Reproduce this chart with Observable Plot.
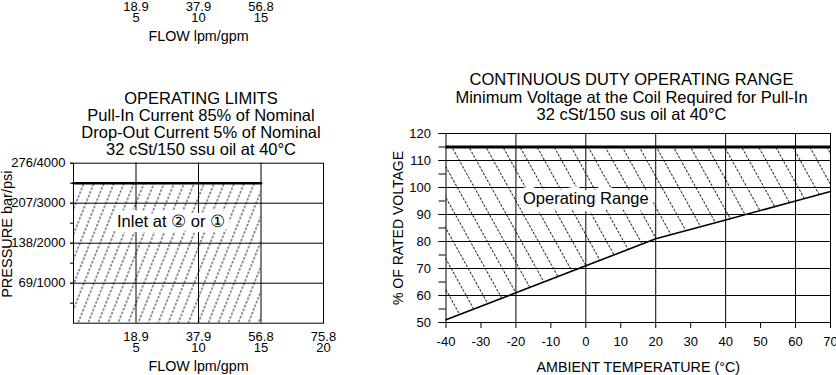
<!DOCTYPE html>
<html><head><meta charset="utf-8">
<script src="https://cdn.jsdelivr.net/npm/d3@7"></script>
<script src="https://cdn.jsdelivr.net/npm/@observablehq/plot@0.6"></script>
<style>
html,body{margin:0;padding:0;background:#fff;}
#root{position:relative;width:836px;height:375px;overflow:hidden;font-family:"Liberation Sans",Arial,Helvetica,sans-serif;color:#000;}
#root svg{position:absolute;overflow:visible;}
.title{position:absolute;text-align:center;font-size:16.5px;white-space:nowrap;}
</style></head><body><div id="root"></div>
<script>
// ---------- data ----------
// fragment of the previous chart's flow axis (top of page)
const prevFlowGpm = [5, 10, 15];
const prevFlowLpm = ["18.9", "37.9", "56.8"];

// OPERATING LIMITS
const flowGpm = [5, 10, 15, 20];
const flowLpm = ["18.9", "37.9", "56.8", "75.8"];
const pressurePsi = [1000, 2000, 3000, 4000];
const pressureBar = ["69", "138", "207", "276"];
const pressureMinorTicks = [500, 1000, 1500, 2000, 2500, 3000, 3500, 4000];
const limitFlowGpm = [0, 15];
const limitPressurePsi = [3500, 3500];
const inletLabel = [{gpm: 7.8, psi: 2530, text: "Inlet at \u2461 or \u2460"}];

// CONTINUOUS DUTY OPERATING RANGE
const tempC = [-40, -20, 0, 20, 40, 60, 70];
const minVoltPct = [51, 61, 71, 81, 88, 95, 98.5];
const maxVoltPct = 115;
const tempTicks = [-40, -30, -20, -10, 0, 10, 20, 30, 40, 50, 60, 70];
const tempGrid = [-20, 0, 20, 40, 60];
const voltTicks = [50, 55, 60, 65, 70, 75, 80, 85, 90, 95, 100, 105, 110, 115, 120];
const voltLabels = [50, 60, 70, 80, 90, 100, 110, 120];
const voltGrid = [60, 70, 80, 90, 100, 110];
const rangeLabel = [{t: 0, v: 96, text: "Operating Range"}];

const leftTitle = ["OPERATING LIMITS", "Pull-In Current 85% of Nominal", "Drop-Out Current 5% of Nominal", "32 cSt/150 ssu oil at 40\u00B0C"];
const rightTitle = ["CONTINUOUS DUTY OPERATING RANGE", "Minimum Voltage at the Coil Required for Pull-In", "32 cSt/150 sus oil at 40\u00B0C"];

// ---------- helpers ----------
const FONT = '"Liberation Sans", Arial, Helvetica, sans-serif';
const rootEl = document.getElementById("root");
const NS = "http://www.w3.org/2000/svg";
function addHatch(svg, id, spacing, angle) {
  const defs = document.createElementNS(NS, "defs");
  const pat = document.createElementNS(NS, "pattern");
  pat.setAttribute("id", id);
  pat.setAttribute("patternUnits", "userSpaceOnUse");
  pat.setAttribute("width", spacing);
  pat.setAttribute("height", 12);
  pat.setAttribute("patternTransform", `rotate(${angle})`);
  const ln = document.createElementNS(NS, "line");
  ln.setAttribute("x1", spacing / 2); ln.setAttribute("x2", spacing / 2);
  ln.setAttribute("y1", 0); ln.setAttribute("y2", 12);
  ln.setAttribute("stroke", "#000");
  ln.setAttribute("stroke-width", 0.9);
  ln.setAttribute("stroke-dasharray", "2.5 1.5");
  pat.appendChild(ln);
  defs.appendChild(pat);
  svg.insertBefore(defs, svg.firstChild);
}
function place(el, x, y) { el.style.left = x + "px"; el.style.top = y + "px"; rootEl.appendChild(el); }
function addTitle(lines, center, y, lh) {
  const d = document.createElement("div");
  d.className = "title";
  d.style.width = "500px";
  d.style.lineHeight = lh + "px";
  d.innerHTML = lines.map(s => `<div>${s}</div>`).join("");
  place(d, center - 250, y);
}
const plotStyle = {fontFamily: FONT, fontSize: "13px", color: "black", background: "transparent", overflow: "visible"};

// ---------- top fragment ----------
const topFrag = Plot.plot({
  width: 340, height: 46, marginLeft: 73, marginRight: 17, marginTop: 0, marginBottom: 0,
  x: {domain: [0, 20], axis: null}, style: plotStyle,
  marks: [
    Plot.text(prevFlowGpm, {x: d => d, text: (d, i) => prevFlowLpm[i], frameAnchor: "top", dy: 6, lineAnchor: "middle", fontSize: 13}),
    Plot.text(prevFlowGpm, {x: d => d, text: d => String(d), frameAnchor: "top", dy: 17, lineAnchor: "middle", fontSize: 13}),
    Plot.text(["FLOW lpm/gpm"], {text: d => d, frameAnchor: "top", dy: 35.5, lineAnchor: "middle", fontSize: 14.3})
  ]
});
place(topFrag, 0, 0);

// ---------- OPERATING LIMITS ----------
const limitRows = limitFlowGpm.map((q, i) => ({q, p: limitPressurePsi[i]}));
const leftPlot = Plot.plot({
  width: 340, height: 220, marginLeft: 73, marginRight: 17, marginTop: 7.7, marginBottom: 52.3,
  x: {domain: [0, 20], axis: null}, y: {domain: [0, 4000]}, style: plotStyle,
  marks: [
    Plot.areaY(limitRows, {x: "q", y: "p", fill: "url(#hatchL)"}),
    Plot.gridX({ticks: [5, 10, 15], stroke: "black", strokeOpacity: 1}),
    Plot.gridY({ticks: [1000, 2000, 3000], stroke: "black", strokeOpacity: 1}),
    Plot.frame({stroke: "black"}),
    Plot.line(limitRows, {x: "q", y: "p", stroke: "black", strokeWidth: 2.6}),
    Plot.axisY({ticks: pressureMinorTicks, tickSize: 3, tickFormat: () => "", label: null}),
    Plot.axisY({ticks: pressurePsi, tickSize: 3, tickPadding: 5, label: null, fontSize: 13,
      tickFormat: p => `${pressureBar[pressurePsi.indexOf(p)]}/${p}`}),
    Plot.text(flowGpm, {x: d => d, text: (d, i) => flowLpm[i], frameAnchor: "bottom", dy: 13.5, lineAnchor: "middle", fontSize: 13}),
    Plot.text(flowGpm, {x: d => d, text: d => String(d), frameAnchor: "bottom", dy: 24.5, lineAnchor: "middle", fontSize: 13}),
    Plot.text(["FLOW lpm/gpm"], {text: d => d, frameAnchor: "bottom", dy: 43.5, lineAnchor: "middle", fontSize: 14.3}),
    Plot.text(["PRESSURE bar/psi"], {text: d => d, frameAnchor: "left", textAnchor: "middle", rotate: -90, dx: -66, dy: -9, lineAnchor: "middle", fontSize: 14.5}),
    Plot.text(inletLabel, {x: "gpm", y: "psi", text: "text", fontSize: 16.5, lineAnchor: "middle", fill: "black", stroke: "white", strokeWidth: 11, strokeLinejoin: "round"})
  ]
});
addHatch(leftPlot, "hatchL", 9.3, 21.8);
place(leftPlot, 0, 155);
addTitle(leftTitle, 201, 90, 17);

// ---------- CONTINUOUS DUTY OPERATING RANGE ----------
const rangeRows = tempC.map((t, i) => ({t, v: minVoltPct[i]}));
const rightPlot = Plot.plot({
  width: 456, height: 250, marginLeft: 65.5, marginRight: 6, marginTop: 8, marginBottom: 53,
  x: {domain: [-40, 70]}, y: {domain: [50, 120]}, style: plotStyle,
  marks: [
    Plot.areaY(rangeRows, {x: "t", y1: "v", y2: () => maxVoltPct, fill: "url(#hatchR)"}),
    Plot.gridX({ticks: tempGrid, stroke: "black", strokeOpacity: 1}),
    Plot.gridY({ticks: voltGrid, stroke: "black", strokeOpacity: 1}),
    Plot.frame({stroke: "black"}),
    Plot.ruleY([maxVoltPct], {stroke: "black", strokeWidth: 3}),
    Plot.line(rangeRows, {x: "t", y: "v", stroke: "black", strokeWidth: 1.6}),
    Plot.axisY({ticks: voltTicks, tickSize: 7, tickFormat: () => "", label: null}),
    Plot.axisY({ticks: voltLabels, tickSize: 7, tickPadding: 8, label: null, fontSize: 13, tickFormat: d => String(d)}),
    Plot.axisX({ticks: tempTicks, tickSize: 6, tickPadding: 8, label: null, fontSize: 13, tickFormat: d => String(d)}),
    Plot.text(["AMBIENT TEMPERATURE (\u00B0C)"], {text: d => d, frameAnchor: "bottom", dy: 44.5, lineAnchor: "middle", fontSize: 14.3}),
    Plot.text(["% OF RATED VOLTAGE"], {text: d => d, frameAnchor: "left", textAnchor: "middle", rotate: -90, dx: -47.5, lineAnchor: "middle", fontSize: 14}),
    Plot.text(rangeLabel, {x: "t", y: "v", text: "text", fontSize: 16.5, lineAnchor: "middle", fill: "black", stroke: "white", strokeWidth: 11, strokeLinejoin: "round"})
  ]
});
addHatch(rightPlot, "hatchR", 14.9, -29.05);
place(rightPlot, 380, 125);
addTitle(rightTitle, 631.5, 71, 17.5);
</script></body></html>
